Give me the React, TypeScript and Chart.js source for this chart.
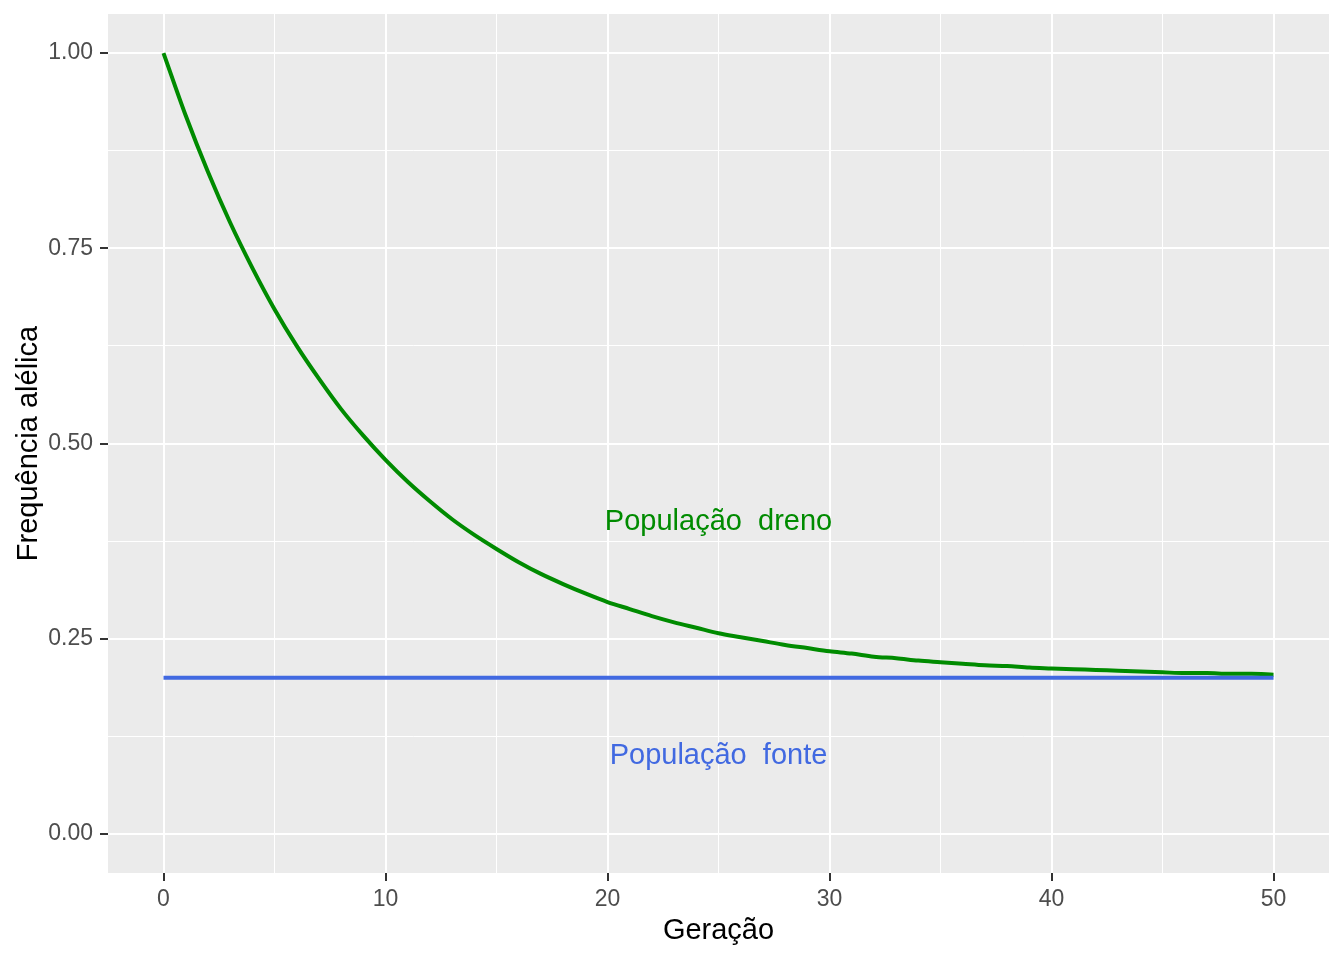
import React, { useEffect, useRef } from "react";
import { Chart, registerables } from "chart.js";

Chart.register(...registerables);

const generations = [0,1,2,3,4,5,6,7,8,9,10,11,12,13,14,15,16,17,18,19,20,21,22,23,24,25,26,27,28,29,30,31,32,33,34,35,36,37,38,39,40,41,42,43,44,45,46,47,48,49,50];
const drenoFreq = [1.000,0.920,0.848,0.783,0.725,0.672,0.625,0.583,0.544,0.510,0.479,0.451,0.426,0.403,0.383,0.365,0.348,0.333,0.320,0.308,0.297,0.288,0.279,0.271,0.264,0.257,0.252,0.247,0.242,0.238,0.234,0.231,0.227,0.225,0.222,0.220,0.218,0.216,0.215,0.213,0.212,0.211,0.210,0.209,0.208,0.207,0.206,0.206,0.205,0.205,0.204];
const fonteGenerations = [0, 50];
const fonteFreq = [0.2, 0.2];

const xMajorTicks = [0, 10, 20, 30, 40, 50];
const xMinorTicks = [5, 15, 25, 35, 45];
const yMajorTicks = [0, 0.25, 0.5, 0.75, 1.0];
const yMinorTicks = [0.125, 0.375, 0.625, 0.875];

const labelTexts = ["População  dreno", "População  fonte"];
const labelX = [25, 25];
const labelY = [0.4, 0.1];
const labelColors = ["#008B00", "#4169E1"];

const FONT = "'Liberation Sans', Arial, sans-serif";

export default function App() {
  const ref = useRef<HTMLCanvasElement | null>(null);
  useEffect(() => {
    if (!ref.current) return;
    const isMajorX = (v: number) => xMajorTicks.includes(v);
    const isMajorY = (v: number) => yMajorTicks.some((t) => Math.abs(t - v) < 1e-9);

    const bgPlugin = {
      id: "panelBg",
      beforeDraw(chart: any) {
        const { ctx, chartArea } = chart;
        ctx.save();
        ctx.fillStyle = "#EBEBEB";
        ctx.fillRect(chartArea.left, chartArea.top, chartArea.right - chartArea.left, chartArea.bottom - chartArea.top);
        ctx.restore();
      },
    };
    const textPlugin = {
      id: "annot",
      afterDatasetsDraw(chart: any) {
        const { ctx, scales } = chart;
        ctx.save();
        ctx.font = `29px ${FONT}`;
        ctx.textAlign = "center";
        ctx.textBaseline = "middle";
        labelTexts.forEach((t, i) => {
          ctx.fillStyle = labelColors[i];
          ctx.fillText(t, scales.x.getPixelForValue(labelX[i]), scales.y.getPixelForValue(labelY[i]));
        });
        ctx.restore();
      },
    };

    const chart = new Chart(ref.current, {
      type: "line",
      data: {
        datasets: [
          {
            label: "fonte",
            data: fonteGenerations.map((g, i) => ({ x: g, y: fonteFreq[i] })),
            borderColor: "#4169E1",
            borderWidth: 4,
            pointRadius: 0,
            borderCapStyle: "butt",
          },
          {
            label: "dreno",
            data: generations.map((g, i) => ({ x: g, y: drenoFreq[i] })),
            borderColor: "#008B00",
            borderWidth: 4,
            pointRadius: 0,
            cubicInterpolationMode: "monotone",
            borderCapStyle: "butt",
          },
        ],
      },
      options: {
        animation: false,
        responsive: false,
        events: [],
        layout: { padding: { top: 14, right: 15, left: 0, bottom: 0 } },
        plugins: { legend: { display: false }, tooltip: { enabled: false } },
        scales: {
          x: {
            type: "linear",
            min: -2.5,
            max: 52.5,
            afterBuildTicks(scale: any) {
              scale.ticks = [...xMajorTicks, ...xMinorTicks].sort((a, b) => a - b).map((v) => ({ value: v }));
            },
            afterFit(scale: any) {
              scale.height = 87;
              scale.paddingLeft = 0;
              scale.paddingRight = 0;
            },
            border: { display: false },
            grid: {
              color: "#FFFFFF",
              lineWidth: (c: any) => (isMajorX(c.tick?.value) ? 2 : 1),
              tickColor: (c: any) => (isMajorX(c.tick?.value) ? "#333333" : "rgba(0,0,0,0)"),
              tickWidth: 2,
              tickLength: 8,
              drawTicks: true,
            },
            ticks: {
              autoSkip: false,
              maxRotation: 0,
              padding: 5,
              color: "#4D4D4D",
              font: { family: FONT, size: 23 },
              callback: (v: any) => (isMajorX(Number(v)) ? String(v) : ""),
            },
            title: {
              display: true,
              text: "Geração",
              color: "#000000",
              font: { family: FONT, size: 29, lineHeight: 1 },
              padding: { top: 0, bottom: 15 },
            },
          },
          y: {
            type: "linear",
            min: -0.05,
            max: 1.05,
            afterBuildTicks(scale: any) {
              scale.ticks = [...yMajorTicks, ...yMinorTicks].sort((a, b) => a - b).map((v) => ({ value: v }));
            },
            afterFit(scale: any) {
              scale.width = 108;
              scale.paddingTop = 0;
              scale.paddingBottom = 0;
            },
            border: { display: false },
            grid: {
              color: "#FFFFFF",
              lineWidth: (c: any) => (isMajorY(c.tick?.value) ? 2 : 1),
              tickColor: (c: any) => (isMajorY(c.tick?.value) ? "#333333" : "rgba(0,0,0,0)"),
              tickWidth: 2,
              tickLength: 8,
              drawTicks: true,
            },
            ticks: {
              autoSkip: false,
              padding: 7,
              color: "#4D4D4D",
              font: { family: FONT, size: 23 },
              callback: (v: any) => (isMajorY(Number(v)) ? Number(v).toFixed(2) : ""),
            },
            title: {
              display: true,
              text: "Frequência alélica",
              color: "#000000",
              font: { family: FONT, size: 29, lineHeight: 1 },
              padding: { top: 14, bottom: 0 },
            },
          },
        },
      },
      plugins: [bgPlugin, textPlugin],
    } as any);
    return () => chart.destroy();
  }, []);

  return (
    <div style={{ position: "absolute", left: 0, top: 0, width: 1344, height: 960, background: "#FFFFFF" }}>
      <canvas ref={ref} width={1344} height={960} style={{ display: "block", width: 1344, height: 960 }} />
    </div>
  );
}
